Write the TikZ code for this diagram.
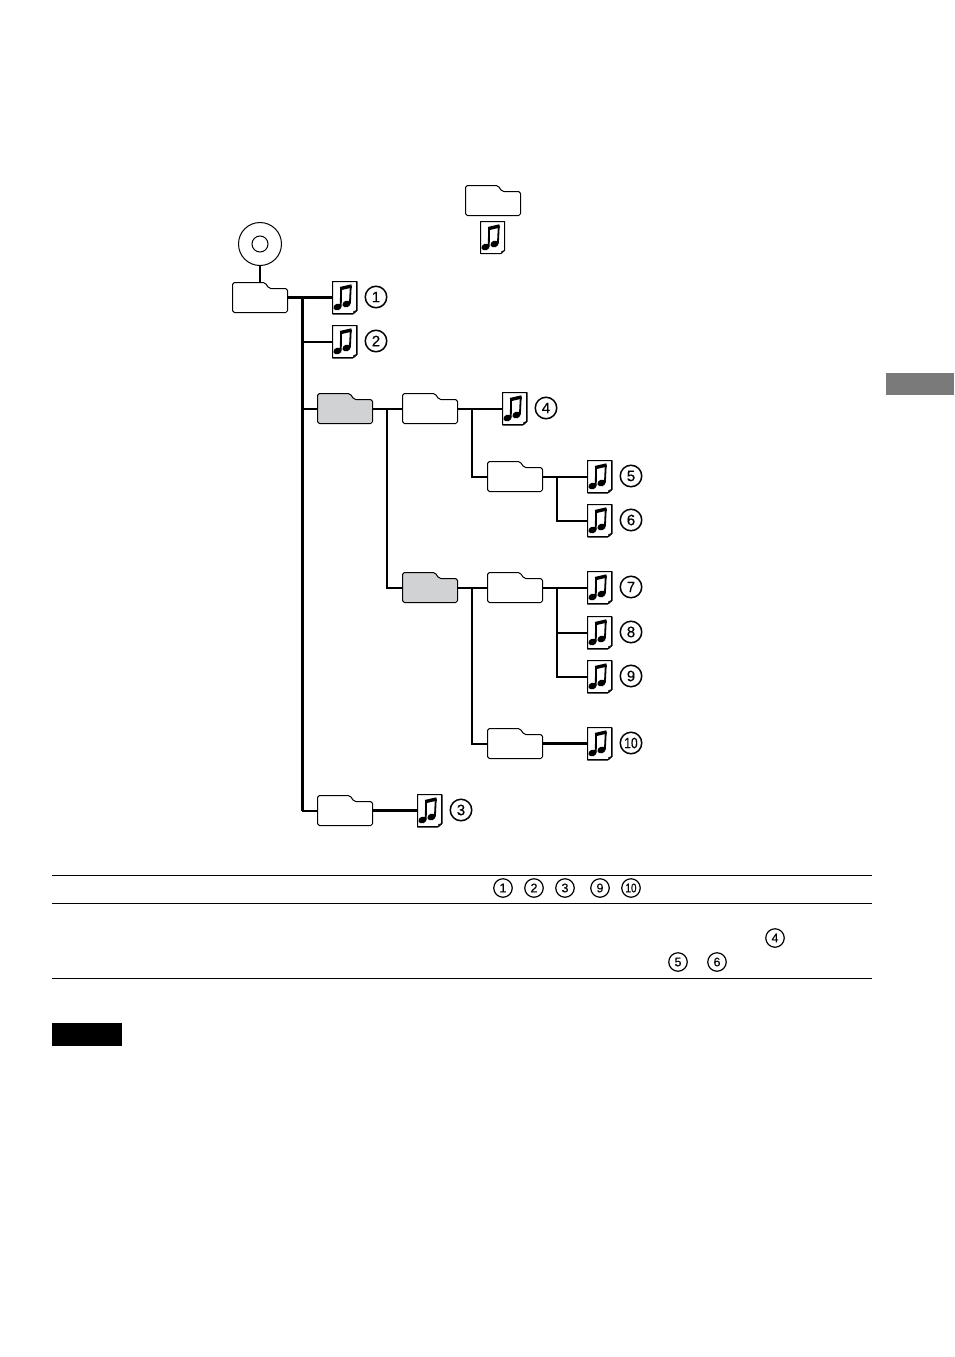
\documentclass[tikz,border=0pt]{standalone}
\usepackage{fontspec}
\setmainfont{Liberation Sans}
\newfontfamily\numfont[FakeBold=0.5]{Liberation Sans}
\usepackage{xcolor}
\usetikzlibrary{positioning}
\definecolor{foldergray}{HTML}{D1D2D4}
\definecolor{tabgray}{HTML}{7A7A7A}
\tikzset{
  outline/.style={draw=black, line width=1pt, line join=round},
  folderbox/.style={anchor=north west, minimum width=56pt, minimum height=31pt, inner sep=0pt},
  notebox/.style={anchor=north west, minimum width=25pt, minimum height=33pt, inner sep=0pt},
  numcircle/.style={draw, circle, line width=1.5pt, minimum size=21.5pt, inner sep=0pt, font=\numfont\fontsize{15}{15}\selectfont},
  smallcircle/.style={draw, circle, line width=1.2pt, minimum size=18.5pt, inner sep=0pt, font=\numfont\fontsize{12.5}{13}\selectfont},
  conn/.style={line width=1.8pt},
  thickconn/.style={line width=3pt},
  rulerline/.style={line width=1pt}
}
% folder with a tab: name, left, top, fill
\newcommand{\folder}[4]{
  \begin{scope}[shift={(#2,#3)}]
    \node (#1) [folderbox] at (0,0) {};
    \draw [outline, fill=#4, rounded corners=1.8pt] (.5,30.5) -- (.5,.5) -- (33,.5) -- (37,6.5) -- (55.5,6.5) -- (55.5,30.5) -- cycle;
  \end{scope}
}
% music file sheet: name, left, top
\newcommand{\musicnote}[3]{
  \begin{scope}[shift={(#2,#3)}]
    \node (#1) [notebox] at (0,0) {};
    \draw [outline, fill=white] (.5,.5) -- (24.5,.5) -- (24.5,29.5) -- (21,32.5) -- (.5,32.5) -- cycle;
    \draw [line width=.6pt, fill=tabgray!50] (24,29.8) -- (21.6,30.4) -- (21.6,32) -- cycle;
    \fill [rotate around={20:(5.5,26)}] (5.5,26) ellipse (4.2 and 3.3);
    \fill [rotate around={20:(14.5,23)}] (14.5,23) ellipse (4.2 and 3.3);
    \draw [line width=1.8pt] (8.8,25.5) -- (9,7);
    \draw [line width=1.8pt] (17.9,22.5) -- (18.8,4.5);
    \draw [line width=3.4pt] (8.2,7.6) -- (19.6,5);
  \end{scope}
}
\begin{document}
\begin{tikzpicture}[x=1pt, y=-1pt]
\useasboundingbox (0,0) rectangle (954,1357);
% side tab
\fill [tabgray] (886,373) rectangle (954,395);
% legend
\folder{legendfolder}{465}{185}{white}
\musicnote{legendnote}{480}{221}
% disc
\node (disc) [draw, circle, line width=1pt, minimum size=43pt, inner sep=0pt] at (260,244) {};
\node (hole) [draw, circle, line width=1pt, minimum size=16pt, inner sep=0pt] at (disc.center) {};
% folders
\foreach \name/\x/\y/\col in {root/232/282/white, groupa/317/393/foldergray, albuma/402/393/white,
    albumb/487/461/white, groupb/402/572/foldergray, albumc/487/572/white,
    albumd/487/728/white, albume/317/795/white}
  \folder{\name}{\x}{\y}{\col}
% music files
\foreach \num/\x/\y in {1/332/281, 2/332/325, 3/417/794, 4/502/392, 5/587/460, 6/587/504,
    7/587/571, 8/587/616, 9/587/660, 10/587/727}
  \musicnote{note\num}{\x}{\y}
% connectors
\draw [line width=1.1pt] (disc) -- (root);
\coordinate (trunk) at (302,297.5);
\coordinate (brancha) at (387,408.5);
\coordinate (branchb) at (472,408.5);
\coordinate (branchc) at (557,476.5);
\coordinate (branchd) at (472,587.5);
\coordinate (branche) at (557,587.5);
\draw [thickconn] (root) -- (note1);
\draw [thickconn] (trunk) -- (trunk |- albume.west);
\draw [conn] (trunk |- note2) -- (note2);
\draw [conn] (trunk |- groupa.west) -- (groupa);
\draw [conn] (trunk |- albume.west) -- (albume);
\draw [conn] (groupa) -- (albuma);
\draw [conn] (brancha) |- (groupb);
\draw [conn] (albuma) -- (note4);
\draw [conn] (branchb) |- (albumb);
\draw [conn] (albumb) -- (note5);
\draw [conn] (branchc) |- (note6);
\draw [conn] (groupb) -- (albumc);
\draw [conn] (branchd) |- (albumd);
\draw [conn] (albumc) -- (note7);
\draw [conn] (branche) |- (note9);
\draw [conn] (branche |- note8) -- (note8);
\draw [thickconn] (albumd) -- (note10);
\draw [thickconn] (albume) -- (note3);
% table
\draw [rulerline] (52,875.5) -- (872,875.5);
\draw [rulerline] (52,903.5) -- (872,903.5);
\draw [rulerline] (52,978.5) -- (872,978.5);
% numbers
\foreach \num/\x/\y/\txt in {1/376/297/1, 2/376/341/2, 3/461/810/3, 4/546/408/4, 5/631/476/5, 6/631/520/6,
    7/631/587/7, 8/631/632/8, 9/631/676/9, 10/631/743/{\scalebox{.8}[1]{10}}}
  \node (num\num) [numcircle] at (\x,\y) {\txt};
\foreach \num/\x/\y/\txt in {1/503/888/1, 2/534/888/2, 3/565/888/3, 9/600/888/9, 10/631/888/{\scalebox{.8}[1]{10}},
    4/775/938/4, 5/678/962/5, 6/717/962/6}
  \node (small\num) [smallcircle] at (\x,\y) {\txt};
% note label
\fill (52,1023) rectangle (122,1046);
\end{tikzpicture}
\end{document}
